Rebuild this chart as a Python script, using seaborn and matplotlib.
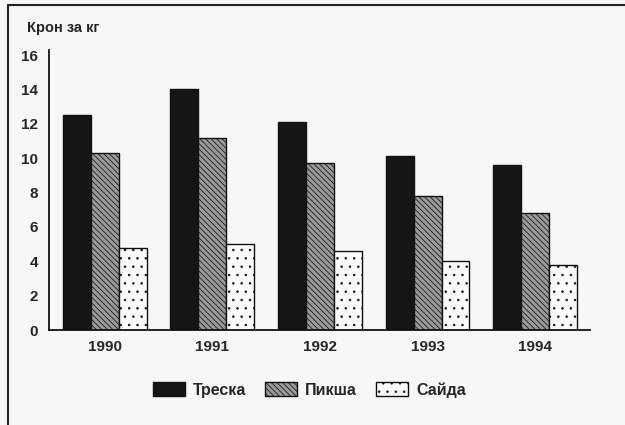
import matplotlib
matplotlib.use('Agg')
import matplotlib.pyplot as plt
from matplotlib.patches import Patch, Rectangle
import seaborn as sns
import pandas as pd

# price of fish, kroner per kg
years = ['1990', '1991', '1992', '1993', '1994']
species = ['Треска', 'Пикша', 'Сайда']
treska = [12.5, 14.0, 12.1, 10.1, 9.6]
piksha = [10.3, 11.2, 9.7, 7.8, 6.8]
saida = [4.8, 5.0, 4.6, 4.0, 3.8]

df = pd.DataFrame({
    'year': years * 3,
    'species': [species[0]] * 5 + [species[1]] * 5 + [species[2]] * 5,
    'price': treska + piksha + saida,
})

sns.set_style('white')
plt.rcParams['font.family'] = ['Liberation Sans Narrow', 'Liberation Sans', 'DejaVu Sans']
plt.rcParams['font.weight'] = 'bold'
plt.rcParams['hatch.linewidth'] = 0.55

fig = plt.figure(figsize=(6.25, 4.25), dpi=100)
fig.patch.set_facecolor('#f7f7f7')
ax = fig.add_axes([0.078, 0.2235, 0.866, 0.659])
ax.set_facecolor('#f7f7f7')

sns.barplot(data=df, x='year', y='price', hue='species', hue_order=species,
            width=0.78, ax=ax, legend=False, saturation=1)

styles = [
    dict(facecolor='#151515', hatch=None),
    dict(facecolor='#9a9a9a', hatch='\\\\\\\\\\\\'),
    dict(facecolor='#fbfbfb', hatch='..'),
]
for cont, st in zip(ax.containers, styles):
    for bar in cont:
        bar.set_facecolor(st['facecolor'])
        bar.set_edgecolor('#111111')
        bar.set_linewidth(1.0)
        if st['hatch']:
            bar.set_hatch(st['hatch'])

ax.set_xlim(-0.52, 4.51)
ax.set_ylim(0, 16.3)
ax.set_yticks(range(0, 17, 2))
ax.set_xlabel('')
ax.set_ylabel('')
for side in ['top', 'right']:
    ax.spines[side].set_visible(False)
for side in ['left', 'bottom']:
    ax.spines[side].set_color('#111111')
    ax.spines[side].set_linewidth(1.3)
ax.tick_params(axis='y', direction='inout', length=7, width=1.2, labelsize=11, pad=4)
ax.tick_params(axis='x', length=0, labelsize=11, pad=7)
for lab in ax.get_xticklabels() + ax.get_yticklabels():
    lab.set_fontweight('bold')

fig.text(0.043, 0.935, 'Крон за кг', fontsize=10.5, fontweight='bold', ha='left', va='center')

handles = [Patch(facecolor=st['facecolor'], edgecolor='#111111', hatch=st['hatch'], linewidth=1.0)
           for st in styles]
fig.legend(handles, species, loc='center', bbox_to_anchor=(0.495, 0.083), ncol=3,
           frameon=False, handlelength=2.0, handleheight=1.0, handletextpad=0.5,
           columnspacing=1.2, prop={'size': 11.5, 'weight': 'bold'})

# outer frame of the figure
fig.patches.append(Rectangle((0.013, -0.02), 1.0, 1.008, transform=fig.transFigure,
                             fill=False, edgecolor='#222222', linewidth=1.5))

fig.savefig('out.png', dpi=100, facecolor=fig.get_facecolor())
